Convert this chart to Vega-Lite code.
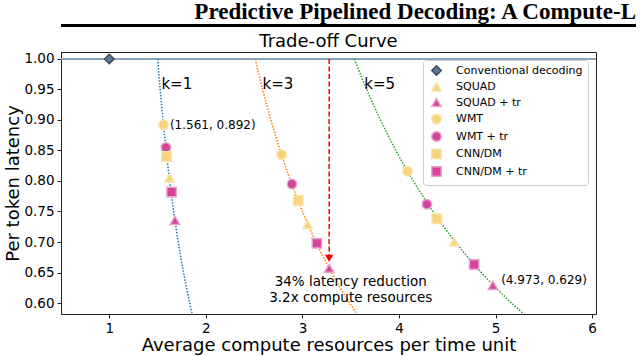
{
  "$schema": "https://vega.github.io/schema/vega-lite/v6.json",
  "padding": {"left": 4, "top": 0, "right": 0, "bottom": 0},
  "background": "white",
  "spacing": 5,
  "resolve": {"legend": {"color": "independent", "shape": "independent"}, "scale": {"color": "independent", "shape": "independent", "stroke": "independent"}},
  "config": {
    "font": "DejaVu Sans",
    "view": {"stroke": "#222222", "strokeWidth": 1},
    "axis": {"domainColor": "#222222", "tickColor": "#222222", "labelColor": "black", "titleColor": "black", "grid": false, "labelFontSize": 13.5, "titleFontSize": 18, "titleFontWeight": "normal", "tickSize": 4, "labelFont": "DejaVu Sans", "titleFont": "DejaVu Sans", "labelPadding": 3}
  },
  "datasets": {
    "k1": [
      {"x": 1.5006, "y": 1.0}, {"x": 1.527, "y": 0.95}, {"x": 1.556, "y": 0.9}, {"x": 1.589, "y": 0.85},
      {"x": 1.625, "y": 0.8}, {"x": 1.667, "y": 0.75}, {"x": 1.714, "y": 0.7}, {"x": 1.769, "y": 0.65},
      {"x": 1.833, "y": 0.6}, {"x": 1.877, "y": 0.57}
    ],
    "k3": [
      {"x": 2.511, "y": 1.0}, {"x": 2.588, "y": 0.95}, {"x": 2.674, "y": 0.9}, {"x": 2.77, "y": 0.85},
      {"x": 2.878, "y": 0.8}, {"x": 3.0, "y": 0.75}, {"x": 3.14, "y": 0.7}, {"x": 3.301, "y": 0.65},
      {"x": 3.49, "y": 0.6}, {"x": 3.618, "y": 0.57}
    ],
    "k5": [
      {"x": 3.537, "y": 1.0}, {"x": 3.666, "y": 0.95}, {"x": 3.808, "y": 0.9}, {"x": 3.968, "y": 0.85},
      {"x": 4.148, "y": 0.8}, {"x": 4.351, "y": 0.75}, {"x": 4.584, "y": 0.7}, {"x": 4.853, "y": 0.65},
      {"x": 5.166, "y": 0.6}, {"x": 5.38, "y": 0.57}
    ],
    "pts": [
      {"series": "Conventional decoding", "x": 1.0, "y": 1.0},
      {"series": "WMT", "x": 1.561, "y": 0.892},
      {"series": "WMT + tr", "x": 1.587, "y": 0.855},
      {"series": "CNN/DM", "x": 1.593, "y": 0.84},
      {"series": "SQUAD", "x": 1.624, "y": 0.805},
      {"series": "CNN/DM + tr", "x": 1.645, "y": 0.782},
      {"series": "SQUAD + tr", "x": 1.68, "y": 0.7355},
      {"series": "WMT", "x": 2.784, "y": 0.843},
      {"series": "WMT + tr", "x": 2.891, "y": 0.795},
      {"series": "CNN/DM", "x": 2.957, "y": 0.768},
      {"series": "SQUAD", "x": 3.053, "y": 0.729},
      {"series": "CNN/DM + tr", "x": 3.15, "y": 0.698},
      {"series": "SQUAD + tr", "x": 3.277, "y": 0.657},
      {"series": "WMT", "x": 4.088, "y": 0.816},
      {"series": "WMT + tr", "x": 4.289, "y": 0.762},
      {"series": "CNN/DM", "x": 4.392, "y": 0.738},
      {"series": "SQUAD", "x": 4.571, "y": 0.7},
      {"series": "CNN/DM + tr", "x": 4.778, "y": 0.663},
      {"series": "SQUAD + tr", "x": 4.973, "y": 0.629}
    ],
    "arrow": [{"x": 3.277, "y": 1.0}, {"x": 3.277, "y": 0.668}],
    "head": [{"x": 3.277, "y": 0.673}],
    "klabels": [{"t": "k=1", "x": 1.699, "y": 0.959}, {"t": "k=3", "x": 2.746, "y": 0.959}, {"t": "k=5", "x": 3.8, "y": 0.959}],
    "coords": [{"t": "(1.561, 0.892)", "x": 1.628, "y": 0.892}, {"t": "(4.973, 0.629)", "x": 5.058, "y": 0.637}],
    "note": [{"t": "34% latency reduction", "x": 3.5, "y": 0.635}, {"t": "3.2x compute resources", "x": 3.5, "y": 0.609}]
  },
  "vconcat": [
    {
      "width": 575,
      "height": 3,
      "title": {"text": "Predictive Pipelined Decoding: A Compute-L", "anchor": "end", "frame": "group", "font": "Liberation Serif", "fontSize": 23, "fontWeight": "bold", "color": "black", "offset": 0},
      "view": {"fill": "black", "stroke": null},
      "data": {"values": [{}]},
      "mark": {"type": "rule", "opacity": 0},
      "encoding": {}
    },
    {
      "width": 535,
      "height": 262,
      "title": {"text": "Trade-off Curve", "font": "DejaVu Sans", "fontSize": 18, "fontWeight": "normal", "anchor": "middle", "offset": 0, "color": "black"},
      "encoding": {
        "x": {"field": "x", "type": "quantitative", "scale": {"domain": [0.5, 6.04], "nice": false, "zero": false}, "axis": {"values": [1, 2, 3, 4, 5, 6], "title": "Average compute resources per time unit", "titlePadding": 2}},
        "y": {"field": "y", "type": "quantitative", "scale": {"domain": [0.582, 1.0114], "nice": false, "zero": false}, "axis": {"values": [0.6, 0.65, 0.7, 0.75, 0.8, 0.85, 0.9, 0.95, 1.0], "format": ".2f", "title": "Per token latency", "titlePadding": 1}}
      },
      "layer": [
        {"data": {"values": [{"v": 1.0}]}, "mark": {"type": "rule", "color": "#8aa3bb", "strokeWidth": 2}, "encoding": {"x": null, "y": {"field": "v", "type": "quantitative"}}},
        {"data": {"name": "k1"}, "mark": {"type": "line", "color": "#1f77b4", "strokeWidth": 1.5, "strokeDash": [1.5, 1.5], "clip": true, "interpolate": "monotone"}},
        {"data": {"name": "k3"}, "mark": {"type": "line", "color": "#ff7f0e", "strokeWidth": 1.5, "strokeDash": [1.5, 1.5], "clip": true, "interpolate": "monotone"}},
        {"data": {"name": "k5"}, "mark": {"type": "line", "color": "#2ca02c", "strokeWidth": 1.5, "strokeDash": [1.5, 1.5], "clip": true, "interpolate": "monotone"}},
        {"data": {"name": "pts"}, "mark": {"type": "point", "filled": true, "size": 90, "opacity": 1, "strokeWidth": 1.5},
          "encoding": {
            "color": {"field": "series", "type": "nominal",
              "scale": {"domain": ["Conventional decoding", "SQUAD", "SQUAD + tr", "WMT", "WMT + tr", "CNN/DM", "CNN/DM + tr"],
                        "range": ["#5b7896", "#f8d27c", "#d4449a", "#f8d27c", "#d4449a", "#f8d27c", "#d4449a"]},
              "legend": {"title": null, "orient": "top-right", "offset": 8, "fillColor": "white", "strokeColor": "#cccccc", "cornerRadius": 3, "padding": 5, "labelFontSize": 11, "labelFont": "DejaVu Sans", "symbolSize": 90, "rowPadding": 0.5, "labelOffset": 14, "symbolOffset": 3, "labelColor": "black", "symbolOpacity": 1}},
            "shape": {"field": "series", "type": "nominal",
              "scale": {"domain": ["Conventional decoding", "SQUAD", "SQUAD + tr", "WMT", "WMT + tr", "CNN/DM", "CNN/DM + tr"],
                        "range": ["diamond", "triangle-up", "triangle-up", "circle", "circle", "square", "square"]},
              "legend": {"title": null, "orient": "top-right", "offset": 8, "fillColor": "white", "strokeColor": "#cccccc", "cornerRadius": 3, "padding": 5, "labelFontSize": 11, "labelFont": "DejaVu Sans", "symbolSize": 90, "rowPadding": 0.5, "labelOffset": 14, "symbolOffset": 3, "labelColor": "black", "symbolOpacity": 1}},
            "stroke": {"field": "series", "type": "nominal", "legend": null,
              "scale": {"domain": ["Conventional decoding", "SQUAD", "SQUAD + tr", "WMT", "WMT + tr", "CNN/DM", "CNN/DM + tr"],
                        "range": ["#3a4c5e", "#fbe3aa", "#eaa3cc", "#fbe3aa", "#eaa3cc", "#fbe3aa", "#eaa3cc"]}}
          }},
        {"data": {"name": "arrow"}, "mark": {"type": "line", "color": "#ff0000", "strokeWidth": 1.5, "strokeDash": [5, 2.5]}},
        {"data": {"name": "head"}, "mark": {"type": "point", "shape": "triangle-down", "filled": true, "color": "#ff0000", "size": 70, "opacity": 1}},
        {"data": {"name": "klabels"}, "mark": {"type": "text", "fontSize": 15, "align": "center", "baseline": "middle", "color": "black"}, "encoding": {"text": {"field": "t"}}},
        {"data": {"name": "coords"}, "mark": {"type": "text", "fontSize": 12, "align": "left", "baseline": "middle", "color": "black"}, "encoding": {"text": {"field": "t"}}},
        {"data": {"name": "note"}, "mark": {"type": "text", "fontSize": 13.5, "align": "center", "baseline": "middle", "color": "black"}, "encoding": {"text": {"field": "t"}}}
      ]
    }
  ]
}
